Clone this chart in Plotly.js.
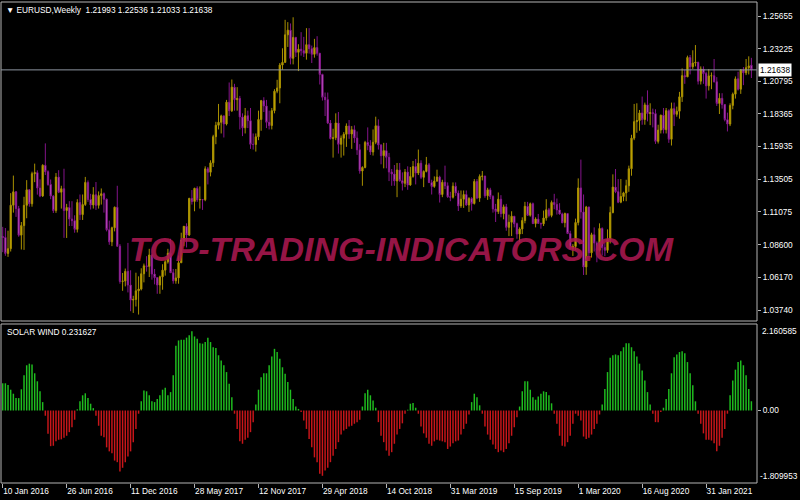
<!DOCTYPE html>
<html><head><meta charset="utf-8">
<script src="https://cdn.plot.ly/plotly-3.0.1.min.js"></script>
<style>html,body{margin:0;padding:0;background:#000;} #chart{width:800px;height:500px;}</style>
</head><body><div id="chart"></div>
<script>
// ---- data ----
const symbol = 'EURUSD';
const period = 'Weekly';
const indName = 'SOLAR WIND';
const tickLabels = ['10 Jan 2016','26 Jun 2016','11 Dec 2016','28 May 2017','12 Nov 2017','29 Apr 2018','14 Oct 2018','31 Mar 2019','15 Sep 2019','1 Mar 2020','16 Aug 2020','31 Jan 2021'];
const barsPerLabel = 24;
const priceTicks = [1.03740,1.06170,1.08600,1.11075,1.13505,1.15935,1.18365,1.20795,1.23225,1.25655];
const indMax = 2.160585;
const indMin = -1.809953;

const open = [
1.0922,1.0915,1.0796,1.0831,1.1155,1.1255,1.1130,1.0932,1.1003,1.1154,
1.1270,1.1166,1.1390,1.1398,1.1283,1.1224,1.1453,1.1405,1.1310,1.1223,
1.1115,1.1365,1.1252,1.1278,1.1115,1.1138,1.1052,1.1040,1.0975,1.1175,
1.1085,1.1160,1.1325,1.1198,1.1157,1.1233,1.1154,1.1227,1.1241,1.1200,
1.0972,1.0882,1.0987,1.1140,1.0850,1.0587,1.0590,1.0662,1.0560,1.0448,
1.0453,1.0517,1.0530,1.0644,1.0703,1.0699,1.0784,1.0642,1.0615,1.0560,
1.0621,1.0671,1.0733,1.0797,1.0652,1.0592,1.0613,1.0726,1.0895,1.0998,
1.0933,1.1206,1.1183,1.1281,1.1196,1.1197,1.1196,1.1426,1.1401,1.1471,
1.1666,1.1751,1.1773,1.1821,1.1761,1.1923,1.1859,1.2035,1.1942,1.1951,
1.1813,1.1732,1.1822,1.1785,1.1609,1.1608,1.1665,1.1794,1.1934,1.1895,
1.1773,1.1749,1.1860,1.2005,1.2029,1.2200,1.2220,1.2425,1.2460,1.2250,
1.2406,1.2295,1.2318,1.2307,1.2288,1.2352,1.2322,1.2280,1.2330,1.2288,
1.2130,1.1960,1.1942,1.1768,1.1652,1.1658,1.1768,1.1609,1.1655,1.1684,
1.1746,1.1686,1.1718,1.1656,1.1568,1.1410,1.1437,1.1623,1.1600,1.1552,
1.1624,1.1747,1.1604,1.1524,1.1562,1.1512,1.1402,1.1388,1.1336,1.1418,
1.1338,1.1318,1.1402,1.1306,1.1370,1.1443,1.1395,1.1468,1.1363,1.1407,
1.1456,1.1324,1.1295,1.1335,1.1365,1.1235,1.1326,1.1300,1.1218,1.1215,
1.1297,1.1246,1.1150,1.1200,1.1235,1.1157,1.1205,1.1168,1.1332,1.1208,
1.1370,1.1372,1.1225,1.1270,1.1220,1.1127,1.1108,1.1200,1.1092,1.1143,
1.0990,1.1028,1.1073,1.1017,1.0940,1.0978,1.1041,1.1147,1.1080,1.1166,
1.1018,1.1052,1.1020,1.1016,1.1060,1.1121,1.1079,1.1176,1.1160,1.1120,
1.1090,1.1025,1.1093,1.0944,1.0830,1.0848,1.1026,1.1284,1.1105,1.0695,
1.1141,1.0800,1.0935,1.0873,1.0820,1.0982,1.0839,1.0819,1.0900,1.1100,
1.1290,1.1256,1.1178,1.1220,1.1247,1.1300,1.1427,1.1655,1.1778,1.1786,
1.1843,1.1794,1.1903,1.1838,1.1845,1.1838,1.1631,1.1715,1.1826,1.1718,
1.1860,1.1647,1.1875,1.1833,1.1856,1.1963,1.2121,1.2112,1.2256,1.2187,
1.2215,1.2220,1.2080,1.2170,1.2136,1.2045,1.2119,1.2120,1.2075,1.1914,
1.1952,1.1905,1.1793,1.1760,1.1899,1.1983,1.2097,1.2020,1.2165,1.2142,
1.2180,1.21993];

const high = [
1.0994,1.0985,1.0965,1.1245,1.1376,1.1260,1.1150,1.1030,1.1218,1.1342,
1.1276,1.1405,1.1465,1.1415,1.1348,1.1460,1.1616,1.1415,1.1347,1.1230,
1.1395,1.1416,1.1300,1.1427,1.1165,1.1185,1.1185,1.1080,1.1200,1.1235,
1.1235,1.1366,1.1340,1.1240,1.1290,1.1328,1.1258,1.1280,1.1250,1.1205,
1.1040,1.0995,1.1145,1.1300,1.0865,1.0650,1.0683,1.0874,1.0670,1.0480,
1.0652,1.0625,1.0685,1.0720,1.0775,1.0830,1.0790,1.0680,1.0620,1.0630,
1.0715,1.0745,1.0830,1.0905,1.0680,1.0680,1.0780,1.0950,1.1000,1.1020,
1.1210,1.1268,1.1285,1.1296,1.1295,1.1200,1.1445,1.1440,1.1490,1.1680,
1.1777,1.1910,1.1830,1.1825,1.1940,1.2070,1.2092,1.2060,1.2035,1.1970,
1.1840,1.1880,1.1860,1.1880,1.1690,1.1690,1.1860,1.1940,1.1960,1.1940,
1.1860,1.1880,1.2020,1.2090,1.2215,1.2325,1.2537,1.2520,1.2510,1.2556,
1.2410,1.2355,1.2445,1.2410,1.2475,1.2475,1.2345,1.2395,1.2415,1.2290,
1.2135,1.1995,1.1995,1.1790,1.1725,1.1840,1.1850,1.1675,1.1700,1.1765,
1.1790,1.1745,1.1750,1.1705,1.1610,1.1445,1.1635,1.1735,1.1640,1.1720,
1.1815,1.1795,1.1610,1.1620,1.1620,1.1545,1.1425,1.1455,1.1470,1.1470,
1.1400,1.1425,1.1445,1.1440,1.1485,1.1500,1.1570,1.1490,1.1415,1.1515,
1.1470,1.1345,1.1370,1.1420,1.1375,1.1345,1.1450,1.1325,1.1255,1.1325,
1.1325,1.1265,1.1265,1.1265,1.1265,1.1215,1.1215,1.1350,1.1350,1.1385,
1.1410,1.1375,1.1285,1.1285,1.1230,1.1165,1.1250,1.1230,1.1160,1.1165,
1.1085,1.1110,1.1075,1.1025,1.0990,1.1065,1.1180,1.1180,1.1175,1.1175,
1.1065,1.1090,1.1025,1.1115,1.1200,1.1135,1.1190,1.1240,1.1205,1.1170,
1.1100,1.1100,1.1095,1.0965,1.0865,1.1055,1.1355,1.1495,1.1235,1.1150,
1.1145,1.0950,1.0990,1.0885,1.1020,1.0990,1.0875,1.0975,1.1145,1.1385,
1.1425,1.1350,1.1350,1.1255,1.1345,1.1450,1.1680,1.1910,1.1915,1.1865,
1.1965,1.1920,1.2011,1.1915,1.1875,1.1870,1.1755,1.1830,1.1880,1.1880,
1.1870,1.1920,1.1920,1.1890,1.2000,1.2175,1.2165,1.2270,1.2275,1.2310,
1.2349,1.2225,1.2190,1.2190,1.2150,1.2170,1.2145,1.2245,1.2110,1.1990,
1.1990,1.1910,1.1845,1.1915,1.1995,1.2115,1.2150,1.2170,1.2185,1.2245,
1.2265,1.22536];

const low = [
1.0805,1.0778,1.0770,1.0810,1.1100,1.1068,1.0920,1.0825,1.0822,1.1058,
1.1144,1.1144,1.1327,1.1234,1.1215,1.1217,1.1380,1.1300,1.1200,1.1097,
1.1098,1.1245,1.1130,1.0912,1.0911,1.1000,1.1000,1.0950,1.0952,1.1045,
1.1045,1.1150,1.1180,1.1123,1.1130,1.1120,1.1130,1.1160,1.1100,1.0960,
1.0860,1.0850,1.0960,1.0845,1.0570,1.0517,1.0550,1.0505,1.0365,1.0352,
1.0400,1.0340,1.0520,1.0580,1.0660,1.0620,1.0600,1.0565,1.0495,1.0495,
1.0525,1.0630,1.0720,1.0650,1.0570,1.0570,1.0570,1.0725,1.0850,1.0840,
1.0925,1.1160,1.1110,1.1180,1.1130,1.1120,1.1185,1.1310,1.1370,1.1440,
1.1610,1.1720,1.1690,1.1660,1.1750,1.1820,1.1850,1.1860,1.1860,1.1720,
1.1670,1.1690,1.1730,1.1575,1.1570,1.1555,1.1640,1.1710,1.1850,1.1730,
1.1720,1.1720,1.1840,1.1990,1.1915,1.2165,1.2215,1.2335,1.2205,1.2205,
1.2260,1.2155,1.2270,1.2260,1.2240,1.2285,1.2215,1.2255,1.2270,1.2055,
1.1935,1.1820,1.1760,1.1645,1.1510,1.1640,1.1540,1.1510,1.1525,1.1590,
1.1650,1.1575,1.1620,1.1530,1.1390,1.1300,1.1430,1.1565,1.1530,1.1525,
1.1610,1.1570,1.1460,1.1430,1.1430,1.1335,1.1300,1.1300,1.1215,1.1330,
1.1265,1.1290,1.1270,1.1300,1.1360,1.1310,1.1380,1.1350,1.1290,1.1400,
1.1320,1.1235,1.1285,1.1330,1.1175,1.1215,1.1275,1.1210,1.1185,1.1205,
1.1225,1.1112,1.1135,1.1135,1.1150,1.1105,1.1115,1.1160,1.1200,1.1180,
1.1340,1.1210,1.1195,1.1200,1.1100,1.1030,1.1090,1.1065,1.1050,1.0965,
1.0925,1.0925,1.0990,1.0905,1.0880,1.0940,1.1020,1.1075,1.1070,1.1015,
1.0990,1.1015,1.0980,1.1000,1.1040,1.1065,1.1065,1.1125,1.1085,1.1085,
1.1020,1.0990,1.0940,1.0827,1.0777,1.0820,1.1005,1.1055,1.0635,1.0636,
1.0770,1.0765,1.0810,1.0730,1.0810,1.0780,1.0775,1.0800,1.0870,1.1095,
1.1245,1.1170,1.1170,1.1185,1.1185,1.1255,1.1375,1.1640,1.1695,1.1710,
1.1755,1.1755,1.1780,1.1752,1.1735,1.1612,1.1615,1.1690,1.1690,1.1690,
1.1620,1.1600,1.1745,1.1815,1.1800,1.1925,1.2060,1.2110,1.2130,1.2170,
1.2190,1.2055,1.2055,1.2060,1.1950,1.2010,1.2020,1.2070,1.1895,1.1835,
1.1875,1.1780,1.1705,1.1745,1.1870,1.1950,1.2010,1.1985,1.2050,1.2125,
1.2130,1.21033];

const close = [
1.0915,1.0796,1.0831,1.1155,1.1255,1.1130,1.0932,1.1003,1.1154,1.1270,
1.1166,1.1390,1.1398,1.1283,1.1224,1.1453,1.1405,1.1310,1.1223,1.1115,
1.1365,1.1252,1.1278,1.1115,1.1138,1.1052,1.1040,1.0975,1.1175,1.1085,
1.1160,1.1325,1.1198,1.1157,1.1233,1.1154,1.1227,1.1241,1.1200,1.0972,
1.0882,1.0987,1.1140,1.0850,1.0587,1.0590,1.0662,1.0560,1.0448,1.0453,
1.0517,1.0530,1.0644,1.0703,1.0699,1.0784,1.0642,1.0615,1.0560,1.0621,
1.0671,1.0733,1.0797,1.0652,1.0592,1.0613,1.0726,1.0895,1.0998,1.0933,
1.1206,1.1183,1.1281,1.1196,1.1197,1.1196,1.1426,1.1401,1.1471,1.1666,
1.1751,1.1773,1.1821,1.1761,1.1923,1.1859,1.2035,1.1942,1.1951,1.1813,
1.1732,1.1822,1.1785,1.1609,1.1608,1.1665,1.1794,1.1934,1.1895,1.1773,
1.1749,1.1860,1.2005,1.2029,1.2200,1.2220,1.2425,1.2460,1.2250,1.2406,
1.2295,1.2318,1.2307,1.2288,1.2352,1.2322,1.2280,1.2330,1.2288,1.2130,
1.1960,1.1942,1.1768,1.1652,1.1658,1.1768,1.1609,1.1655,1.1684,1.1746,
1.1686,1.1718,1.1656,1.1568,1.1410,1.1437,1.1623,1.1600,1.1552,1.1624,
1.1747,1.1604,1.1524,1.1562,1.1512,1.1402,1.1388,1.1336,1.1418,1.1338,
1.1318,1.1402,1.1306,1.1370,1.1443,1.1395,1.1468,1.1363,1.1407,1.1456,
1.1324,1.1295,1.1335,1.1365,1.1235,1.1326,1.1300,1.1218,1.1215,1.1297,
1.1246,1.1150,1.1200,1.1235,1.1157,1.1205,1.1168,1.1332,1.1208,1.1370,
1.1372,1.1225,1.1270,1.1220,1.1127,1.1108,1.1200,1.1092,1.1143,1.0990,
1.1028,1.1073,1.1017,1.0940,1.0978,1.1041,1.1147,1.1080,1.1166,1.1018,
1.1052,1.1020,1.1016,1.1060,1.1121,1.1079,1.1176,1.1160,1.1120,1.1090,
1.1025,1.1093,1.0944,1.0830,1.0848,1.1026,1.1284,1.1105,1.0695,1.1141,
1.0800,1.0935,1.0873,1.0820,1.0982,1.0839,1.0819,1.0900,1.1100,1.1290,
1.1256,1.1178,1.1220,1.1247,1.1300,1.1427,1.1655,1.1778,1.1786,1.1843,
1.1794,1.1903,1.1838,1.1845,1.1838,1.1631,1.1715,1.1826,1.1718,1.1860,
1.1647,1.1875,1.1833,1.1856,1.1963,1.2121,1.2112,1.2256,1.2187,1.2215,
1.2220,1.2080,1.2170,1.2136,1.2045,1.2119,1.2120,1.2075,1.1914,1.1952,
1.1905,1.1793,1.1760,1.1899,1.1983,1.2097,1.2020,1.2165,1.2142,1.2180,
1.2193,1.21638];

const solarWind = [
0.68,0.68,0.64,0.52,0.42,0.31,0.31,0.53,0.88,1.13,1.17,1.15,0.93,0.73,0.48,0.21,
-0.13,-0.58,-0.89,-0.88,-0.77,-0.73,-0.72,-0.68,-0.63,-0.54,-0.42,-0.23,
0.03,0.23,0.38,0.43,0.31,0.17,0.06,
-0.13,-0.38,-0.63,-0.67,-0.92,-1.02,-1.07,-1.25,-1.29,-1.52,-1.43,-1.29,-1.15,-1.02,-0.79,-0.46,-0.08,
0.23,0.50,0.48,0.38,0.23,0.21,0.29,0.38,0.52,0.57,0.38,0.46,0.88,1.62,1.75,1.77,1.77,1.82,1.88,1.98,1.85,1.79,1.68,1.67,1.71,1.82,1.71,1.58,1.56,1.38,1.25,1.13,0.96,0.67,0.33,
-0.08,-0.46,-0.77,-0.83,-0.73,-0.68,-0.54,-0.29,
0.15,0.52,0.83,0.93,0.93,1.13,1.35,1.54,1.46,1.29,1.08,0.92,0.71,0.52,0.29,0.10,0.04,
-0.04,-0.25,-0.46,-0.71,-0.92,-1.17,-1.29,-1.58,-1.63,-1.50,-1.43,-1.29,-1.13,-0.96,-0.79,-0.60,-0.50,-0.46,-0.40,-0.38,-0.33,-0.29,-0.23,
0.10,0.43,0.52,0.38,0.25,0.07,
-0.29,-0.63,-0.79,-1.00,-1.13,-1.04,-0.83,-0.60,-0.46,-0.32,-0.08,
0.02,0.17,0.19,0.07,
-0.08,-0.40,-0.57,-0.68,-0.83,-0.88,-0.77,-0.73,-0.75,-0.77,-0.79,-0.96,-0.90,-0.82,-0.77,-0.75,-0.60,-0.46,-0.33,-0.10,
0.21,0.42,0.33,0.13,
-0.08,-0.40,-0.60,-0.73,-0.85,-0.96,-1.04,-1.00,-1.04,-0.96,-0.82,-0.63,-0.42,-0.17,
0.10,0.48,0.73,0.73,0.52,0.33,0.27,0.35,0.42,0.48,0.46,0.38,0.18,
-0.08,-0.33,-0.63,-0.88,-0.90,-0.79,-0.63,-0.33,-0.08,
-0.13,-0.25,-0.65,-0.71,-0.68,-0.60,-0.46,-0.33,-0.10,
0.15,0.54,0.96,1.32,1.38,1.40,1.38,1.48,1.58,1.68,1.68,1.58,1.48,1.35,1.17,1.00,0.75,0.46,0.15,
-0.08,-0.29,-0.29,-0.04,
0.07,0.29,0.54,0.93,1.33,1.40,1.46,1.48,1.43,1.21,0.93,0.63,0.23,
-0.08,-0.33,-0.57,-0.73,-0.73,-0.75,-0.82,-1.02,-0.88,-0.68,-0.46,-0.08,
0.38,0.75,1.02,1.21,1.25,1.13,0.88,0.54,0.231627];

// ---- layout geometry ----
const W = 800, H = 500;
const M = {l: 1, r: 43, t: 2, b: 17};
const plotH = H - M.t - M.b;
const py = pix => 1 - (pix - M.t) / plotH;          // page pixel row -> paper y
const topDomain = [py(321), 1];
const botDomain = [0, py(324)];
const FONT = "'Liberation Sans', Arial, sans-serif";
const FRAME = '#b4b4b4';

const idx = close.map((_, i) => i);
const last = close.length - 1;
const tickIdx = tickLabels.map((_, k) => k * barsPerLabel);

const candle = {
  type: 'candlestick', x: idx, open: open, high: high, low: low, close: close,
  xaxis: 'x', yaxis: 'y',
  increasing: {line: {color: '#a89000', width: 1}, fillcolor: '#d6b400'},
  decreasing: {line: {color: '#84148a', width: 1}, fillcolor: '#e880e8'},
  whiskerwidth: 0, hoverinfo: 'skip', showlegend: false
};
const hist = {
  type: 'bar', x: idx, y: solarWind, xaxis: 'x', yaxis: 'y2',
  marker: {color: solarWind.map(v => v >= 0 ? '#1fbe1f' : '#c8161a'), line: {width: 0}},
  width: 0.55, hoverinfo: 'skip', showlegend: false
};

const header = '\u25BC ' + symbol + ',' + period + '\u00a0\u00a0' +
  [open[last], high[last], low[last], close[last]].map(v => v.toFixed(5)).join(' ');

const layout = {
  width: W, height: H,
  margin: {l: M.l, r: M.r, t: M.t, b: M.b, pad: 0},
  paper_bgcolor: '#000', plot_bgcolor: '#000',
  showlegend: false, hovermode: false, dragmode: false,
  font: {family: FONT, size: 8.3, color: '#ffffff'},
  xaxis: {
    anchor: 'y2', domain: [0, 1], range: [-0.64, 283.1],
    tickmode: 'array', tickvals: tickIdx, ticktext: tickLabels,
    ticks: 'outside', ticklen: 4, tickwidth: 1, tickcolor: FRAME,
    ticklabelposition: 'outside right',
    tickfont: {family: FONT, size: 8.3, color: '#ffffff'},
    showline: false, showgrid: false, zeroline: false,
    rangeslider: {visible: false}, fixedrange: true
  },
  yaxis: {
    anchor: 'x', domain: topDomain, range: [1.02920, 1.26699], side: 'right',
    tickmode: 'array', tickvals: priceTicks, ticktext: priceTicks.map(v => v.toFixed(5)),
    ticks: 'outside', ticklen: 3, tickcolor: FRAME,
    tickfont: {family: FONT, size: 8.3, color: '#ffffff'},
    showgrid: false, zeroline: false, showline: false, fixedrange: true
  },
  yaxis2: {
    anchor: 'x', domain: botDomain, range: [indMin, indMax], side: 'right',
    tickmode: 'array', tickvals: [0], ticktext: ['0.00'],
    ticks: 'outside', ticklen: 3, tickcolor: FRAME,
    tickfont: {family: FONT, size: 8.3, color: '#ffffff'},
    showgrid: false, zeroline: false, showline: false, fixedrange: true
  },
  shapes: [
    {type: 'rect', xref: 'paper', yref: 'paper', x0: 0, x1: 1, y0: topDomain[0], y1: 1,
     line: {color: FRAME, width: 1}, layer: 'above'},
    {type: 'rect', xref: 'paper', yref: 'paper', x0: 0, x1: 1, y0: 0, y1: botDomain[1],
     line: {color: FRAME, width: 1}, layer: 'above'},
    {type: 'line', xref: 'paper', yref: 'y', x0: 0, x1: 1, y0: close[last], y1: close[last],
     line: {color: '#8e95a0', width: 1}, layer: 'above'}
  ],
  annotations: [
    {xref: 'paper', yref: 'paper', x: 0, y: 1, xanchor: 'left', yanchor: 'top',
     xshift: 3, yshift: -1, showarrow: false, text: header,
     font: {family: FONT, size: 8.3, color: '#ffffff'}},
    {xref: 'paper', yref: 'y', x: 1, y: close[last], xanchor: 'left', yanchor: 'middle',
     xshift: 1, showarrow: false, text: close[last].toFixed(5), bgcolor: '#ffffff',
     borderpad: 1, font: {family: FONT, size: 8.3, color: '#000000'}},
    {xref: 'paper', yref: 'paper', x: 0, y: botDomain[1], xanchor: 'left', yanchor: 'top',
     xshift: 4, yshift: -1, showarrow: false,
     text: indName + ' ' + solarWind[last].toFixed(6),
     font: {family: FONT, size: 8.3, color: '#ffffff'}},
    {xref: 'paper', yref: 'paper', x: 1, y: botDomain[1], xanchor: 'left', yanchor: 'top',
     xshift: 3, yshift: 0, showarrow: false, text: indMax.toFixed(6),
     font: {family: FONT, size: 8.3, color: '#ffffff'}},
    {xref: 'paper', yref: 'paper', x: 1, y: 0, xanchor: 'left', yanchor: 'bottom',
     xshift: 1, yshift: 0, showarrow: false, text: indMin.toFixed(6),
     font: {family: FONT, size: 8.3, color: '#ffffff'}},
    {xref: 'paper', yref: 'paper', x: (401 - M.l) / (W - M.l - M.r), y: py(249.5),
     xanchor: 'center', yanchor: 'middle', showarrow: false,
     text: '<b><i>TOP-TRADING-INDICATORS.COM</i></b>',
     font: {family: FONT, size: 34, color: 'rgba(172,24,80,0.88)'}}
  ]
};

Plotly.newPlot('chart', [candle, hist], layout, {staticPlot: true, displayModeBar: false});
</script>
</body></html>
